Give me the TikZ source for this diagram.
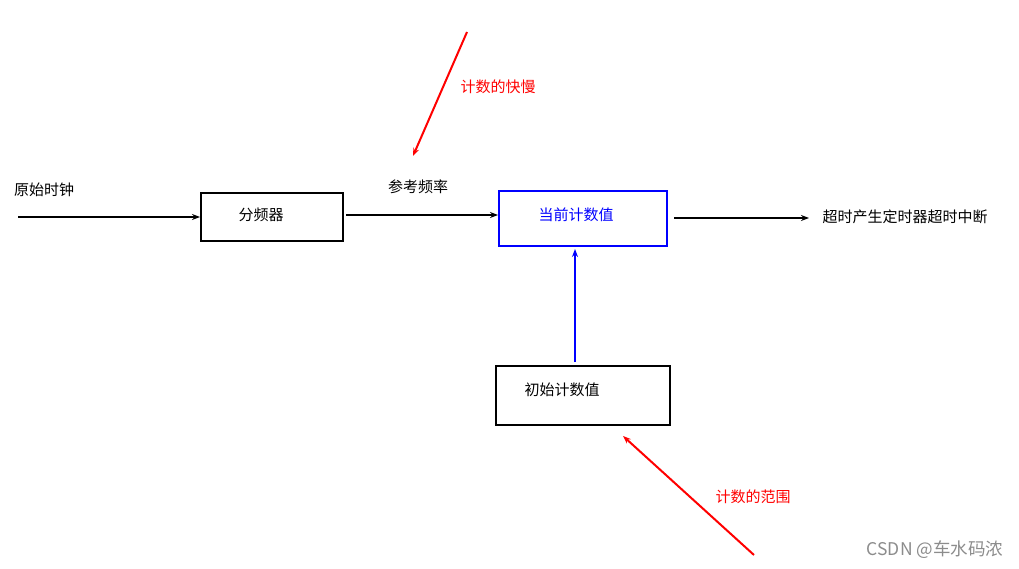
\documentclass[tikz,border=0pt]{standalone}
\usepackage{fontspec}
\setmainfont{Noto Sans CJK SC}
\usetikzlibrary{arrows.meta}
\definecolor{myblue}{RGB}{0,0,255}
\definecolor{myred}{RGB}{255,0,0}
\tikzset{
  lbl/.style={font=\fontsize{15}{17}\selectfont, inner sep=0pt},
  blk/.style={draw=black, line width=2pt, inner sep=0pt},
  conn/.style={line width=1.6pt, -{Stealth[length=8pt,width=6pt]}},
}
\begin{document}
\begin{tikzpicture}[x=1pt,y=-1pt]
\useasboundingbox[fill=white] (0,0) rectangle (1019,569);
% nodes
\node[blk, minimum width=142pt, minimum height=48pt] (fp) at (272,217) {};
\node[lbl] (fpt) at (261,215) {分频器};
\node[blk, draw=myblue, minimum width=168pt, minimum height=55pt] (cur) at (583,218.5) {};
\node[lbl, text=myblue] (curt) at (576,215) {当前计数值};
\node[blk, minimum width=174pt, minimum height=59pt] (init) at (583,395.5) {};
\node[lbl] (initt) at (562,390) {初始计数值};
\node[lbl] (clk) at (44,190) {原始时钟};
\node[lbl] (ref) at (418,187) {参考频率};
\node[lbl] (out) at (905,217) {超时产生定时器超时中断};
\node[lbl, text=myred] (speed) at (498,87) {计数的快慢};
\node[lbl, text=myred] (range) at (753,497) {计数的范围};
\node[lbl, text=black!45, font=\fontsize{17.5}{19}\selectfont] (wm) at (935,550) {CSDN @车水码浓};
% coordinates
\coordinate (c0) at (18,217);
\coordinate (c1) at (200,217);
\coordinate (r0) at (346,215);
\coordinate (r1) at (498,215);
\coordinate (o0) at (674,218);
\coordinate (o1) at (809,218);
\coordinate (s0) at (467,32);
\coordinate (s1) at (413,156);
\coordinate (g0) at (754,555);
\coordinate (g1) at (623,436);
\coordinate (b0) at (575,362);
\coordinate (b1) at (575,249);
% connectors
\draw[conn] (c0) -- (c1);
\draw[conn] (r0) -- (r1);
\draw[conn] (o0) -- (o1);
\draw[conn, myblue, line width=2pt] (b0) -- (b1);
\draw[conn, myred, line width=2pt] (s0) -- (s1);
\draw[conn, myred, line width=2pt] (g0) -- (g1);
\end{tikzpicture}
\end{document}
